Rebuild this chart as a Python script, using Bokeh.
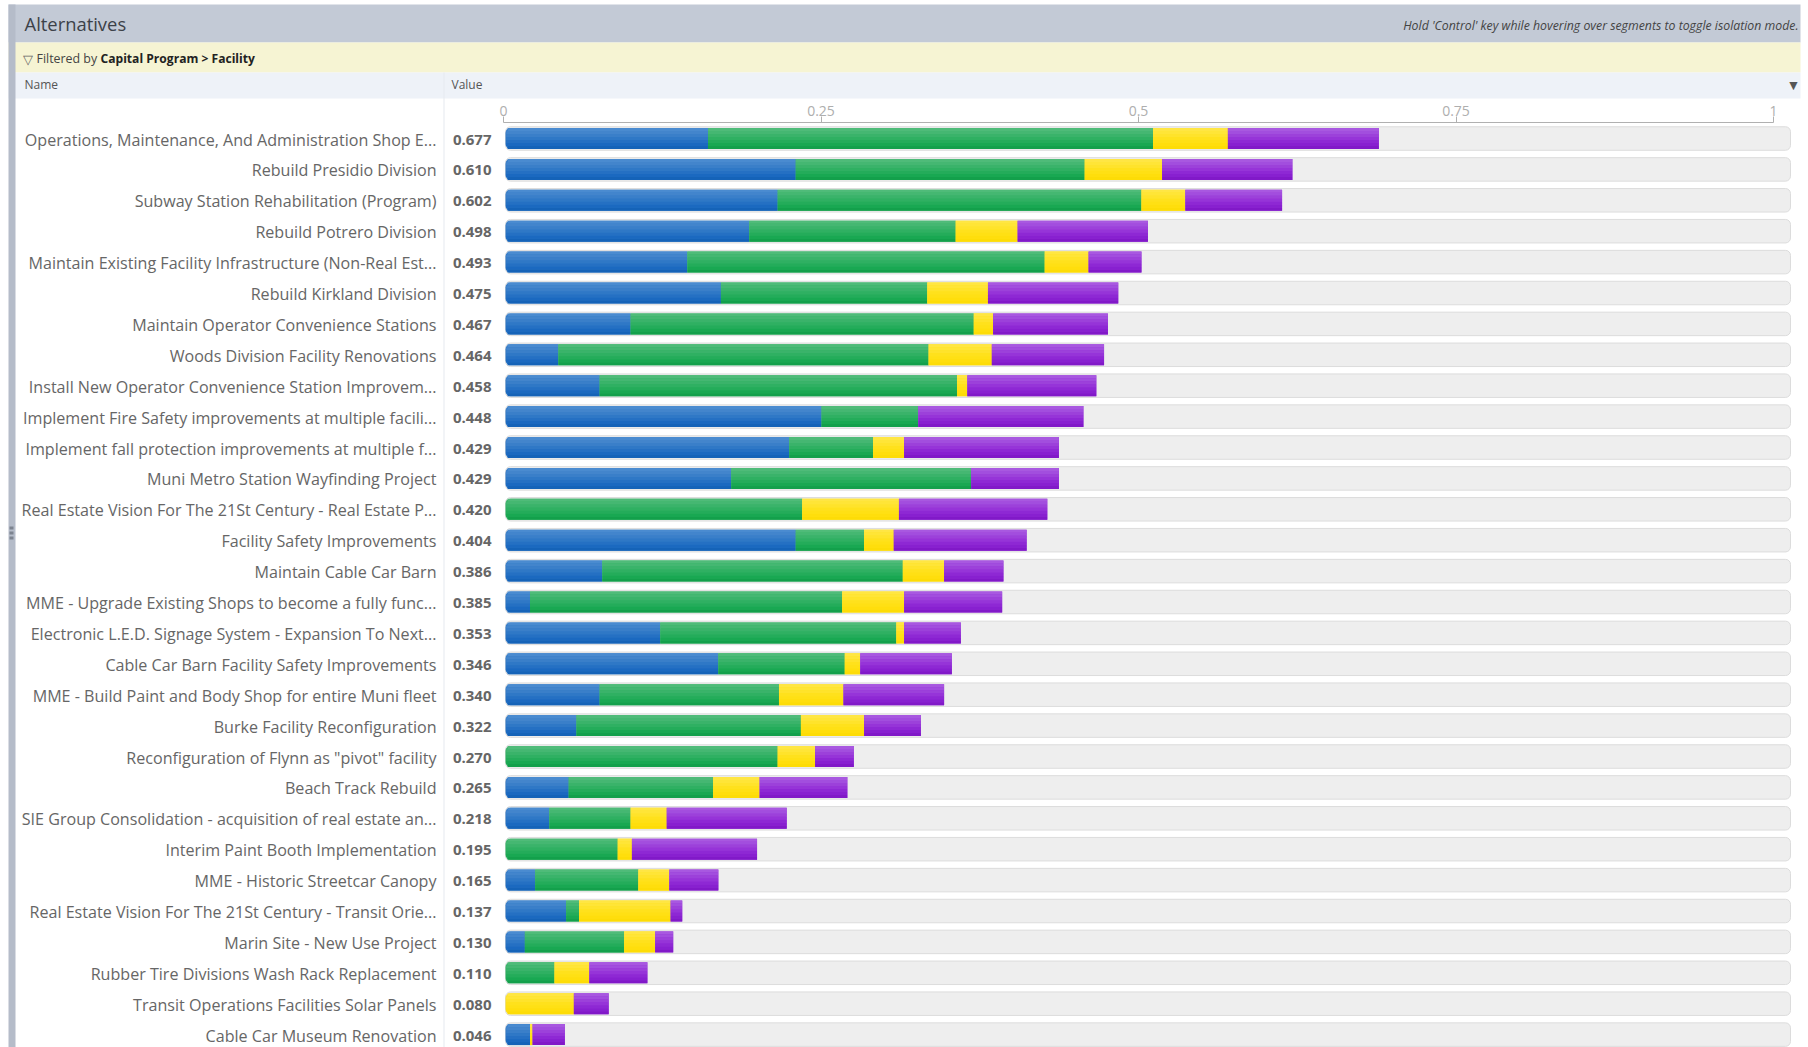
from math import sqrt
from bokeh.plotting import figure
from bokeh.models import Range1d, LinearAxis, FixedTicker
from bokeh.core.properties import value
from bokeh.embed import file_html
from bokeh.resources import INLINE

names = [
    "Operations, Maintenance, And Administration Shop E...", "Rebuild Presidio Division",
    "Subway Station Rehabilitation (Program)", "Rebuild Potrero Division",
    "Maintain Existing Facility Infrastructure (Non-Real Est...", "Rebuild Kirkland Division",
    "Maintain Operator Convenience Stations", "Woods Division Facility Renovations",
    "Install New Operator Convenience Station Improvem...", "Implement Fire Safety improvements at multiple facili...",
    "Implement fall protection improvements at multiple f...", "Muni Metro Station Wayfinding Project",
    "Real Estate Vision For The 21St Century - Real Estate P...", "Facility Safety Improvements",
    "Maintain Cable Car Barn", "MME - Upgrade Existing Shops to become a fully func...",
    "Electronic L.E.D. Signage System - Expansion To Next...", "Cable Car Barn Facility Safety Improvements",
    "MME - Build Paint and Body Shop for entire Muni fleet", "Burke Facility Reconfiguration",
    "Reconfiguration of Flynn as \"pivot\" facility", "Beach Track Rebuild",
    "SIE Group Consolidation - acquisition of real estate an...", "Interim Paint Booth Implementation",
    "MME - Historic Streetcar Canopy", "Real Estate Vision For The 21St Century - Transit Orie...",
    "Marin Site - New Use Project", "Rubber Tire Divisions Wash Rack Replacement",
    "Transit Operations Facilities Solar Panels", "Cable Car Museum Renovation",
]
totals = [0.677, 0.610, 0.602, 0.498, 0.493, 0.475, 0.467, 0.464, 0.458, 0.448,
          0.429, 0.429, 0.420, 0.404, 0.386, 0.385, 0.353, 0.346, 0.340, 0.322,
          0.270, 0.265, 0.218, 0.195, 0.165, 0.137, 0.130, 0.110, 0.080, 0.046]
blue = [0.157, 0.225, 0.211, 0.189, 0.141, 0.167, 0.097, 0.041, 0.073, 0.245,
        0.220, 0.175, 0.000, 0.225, 0.075, 0.019, 0.120, 0.165, 0.073, 0.055,
        0.000, 0.049, 0.034, 0.000, 0.023, 0.047, 0.015, 0.000, 0.000, 0.019]
green = [0.345, 0.224, 0.282, 0.160, 0.277, 0.160, 0.266, 0.287, 0.277, 0.075,
         0.065, 0.186, 0.230, 0.053, 0.233, 0.242, 0.183, 0.098, 0.139, 0.174,
         0.211, 0.112, 0.063, 0.087, 0.080, 0.010, 0.077, 0.038, 0.000, 0.000]
yellow = [0.058, 0.060, 0.034, 0.048, 0.034, 0.047, 0.015, 0.049, 0.008, 0.000,
          0.024, 0.000, 0.075, 0.023, 0.032, 0.048, 0.006, 0.012, 0.050, 0.049,
          0.029, 0.036, 0.028, 0.011, 0.024, 0.071, 0.024, 0.027, 0.053, 0.002]
purple = [0.117, 0.101, 0.075, 0.101, 0.041, 0.101, 0.089, 0.087, 0.100, 0.128,
          0.120, 0.068, 0.115, 0.103, 0.046, 0.076, 0.044, 0.071, 0.078, 0.044,
          0.030, 0.068, 0.093, 0.097, 0.038, 0.009, 0.014, 0.045, 0.027, 0.025]
axis_ticks = [0, 0.25, 0.5, 0.75, 1]
axis_tick_labels = ["0", "0.25", "0.5", "0.75", "1"]

series = [
    (blue, "#2f78c6", ["#4a8bd0", "#4385cc", "#3a7fc9", "#2f78c6", "#2570c3", "#1b69c0", "#1563b8"]),
    (green, "#2fb062", ["#4fbb79", "#45b772", "#3ab36a", "#2fb062", "#24ac5a", "#19a852", "#13a04b"]),
    (yellow, "#ffe11c", ["#ffe643", "#ffe537", "#ffe32b", "#ffe11c", "#ffe014", "#ffde0c", "#fddc06"]),
    (purple, "#9634d8", ["#a858e0", "#a24ede", "#9c41da", "#9634d8", "#8e28d4", "#8820d0", "#8119c8"]),
]

FONT = "Open Sans"
rows = list(range(len(names)))

# pixel geometry of the frame (page coordinates)
F_L, F_R, F_T, F_B = 503, 1792, 122, 1047
ROW0, ROWH = 138, 30.9
X0, XU = 505, 1290          # bar scale
A0, AU = 503, 1270          # axis scale

p = figure(width=1808, height=1047, output_backend="svg", toolbar_location=None,
           x_range=Range1d((F_L - X0) / XU, (F_R - X0) / XU),
           y_range=Range1d((F_B - ROW0) / ROWH, (F_T - ROW0) / ROWH),
           x_axis_location=None, y_axis_location=None, min_border_left=F_L,
           min_border_right=1808 - F_R, min_border_top=F_T, min_border_bottom=0,
           outline_line_color=None, background_fill_color="white", border_fill_color="white")
p.grid.visible = False
p.extra_x_ranges["ticks"] = Range1d((F_L - A0) / AU, (F_R - A0) / AU)
# page-pixel ranges for the window furniture around the chart
p.extra_x_ranges["px"] = Range1d(F_L, F_R)
p.extra_y_ranges["px"] = Range1d(F_B, F_T)

top_axis = LinearAxis(x_range_name="ticks", ticker=FixedTicker(ticks=axis_ticks),
                      major_label_overrides=dict(zip(axis_ticks, axis_tick_labels)),
                      bounds=(0, 1), axis_line_color="#b0b0b0", major_tick_line_color="#b0b0b0",
                      major_tick_out=6, major_tick_in=0, minor_tick_line_color=None,
                      major_label_text_color="#aeaeae", major_label_text_font=FONT,
                      major_label_text_font_size="14px", major_label_standoff=1)
p.add_layout(top_axis, "above")

# tracks
p.hbar(y=rows, left=0, right=(1790 - X0) / XU, height=23.5 / ROWH, fill_color="#eeeeee",
       line_color="#dcdcdc", border_radius=5)

BAR_H = 21 / ROWH
STRIPS = 7
R = 5
# segments: rounded base layer, then gradient strips on top
left = [0.0] * len(rows)
for vals, mid, ramp in series:
    rights = [l + v for l, v in zip(left, vals)]
    idx = [i for i in rows if vals[i] > 0]
    first = [i for i in idx if left[i] == 0]
    rest = [i for i in idx if left[i] > 0]
    if first:
        p.hbar(y=first, left=[0] * len(first), right=[rights[i] for i in first], height=BAR_H,
               fill_color=mid, line_color=None, border_radius=(R, 0, 0, R))
    if rest:
        p.hbar(y=rest, left=[left[i] for i in rest], right=[rights[i] for i in rest], height=BAR_H,
               fill_color=mid, line_color=None)
    for k, col in enumerate(ramp):
        d = min(k + 0.5, STRIPS - k - 0.5) * 21 / STRIPS
        inset = (R - sqrt(max(R * R - (R - d) ** 2, 0))) / XU if d < R else 0
        ys = [i - BAR_H / 2 + (k + 0.5) * BAR_H / STRIPS for i in idx]
        ls = [left[i] + (inset + 0.0005 if left[i] == 0 else 0) for i in idx]
        p.hbar(y=ys, left=ls, right=[rights[i] for i in idx], height=BAR_H / STRIPS,
               fill_color=col, line_color=None)
    left = rights

# name and value columns
p.text(x=[0] * len(rows), y=rows, text=names, x_offset=-(X0 - 436), y_offset=1, text_align="right",
       text_baseline="middle", text_font=value(FONT), text_font_size="16.1px",
       text_color="#666666", level="overlay")
p.text(x=[0] * len(rows), y=rows, text=[f"{v:.3f}" for v in totals], x_offset=-14, y_offset=1,
       text_align="right", text_baseline="middle", text_font=value(FONT), text_font_style="bold",
       text_font_size="15px", text_color="#666666", level="overlay")


def box(l, t, r, b, color):
    p.quad(left=[l], right=[r], top=[t], bottom=[b], fill_color=color, line_color=None,
           x_range_name="px", y_range_name="px", level="annotation")


def label(x, y, text, size, color="#555555", align="left", style="normal"):
    p.text(x=[x], y=[y], text=[text], text_font=value(FONT), text_font_size=size, text_color=color,
           text_align=align, text_baseline="middle", text_font_style=style,
           x_range_name="px", y_range_name="px", level="overlay")


box(8, 4, 1800, 42, "#c3cad6")
box(8, 42, 1800, 72, "#f6f4d3")
box(8, 72, 1800, 98, "#eef2f8")
box(8, 4, 15, 1047, "#b5bcc9")
box(443, 72, 444, 1047, "#e6e9f0")
for yy in (526, 531, 536):
    box(9, yy, 13, yy + 3, "#7d8490")

label(24, 23, "Alternatives", "18.4px", "#3c4148")
label(1798, 25, "Hold 'Control' key while hovering over segments to toggle isolation mode.", "12.3px",
      "#444444", "right", "italic")
label(22, 58, "▽", "13px", "#666666")
label(36, 58, "Filtered by", "12.4px", "#444444")
label(100, 58, "Capital Program > Facility", "12.1px", "#222222", "left", "bold")
label(24, 84, "Name", "12px", "#555555")
label(451, 84, "Value", "12px", "#555555")
label(1793, 84, "▼", "14px", "#555555", "center")

open("out.html", "w").write(file_html(p, INLINE))
